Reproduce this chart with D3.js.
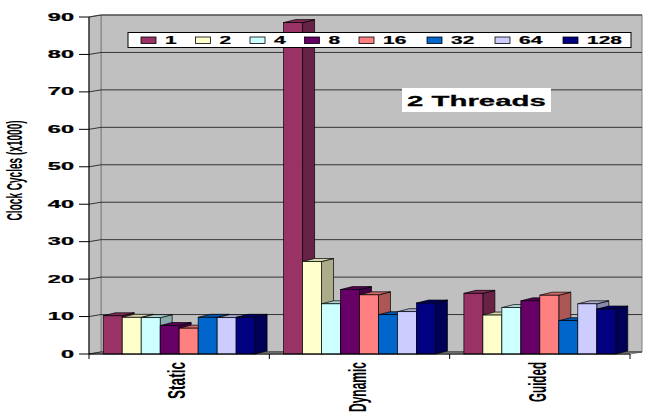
<!DOCTYPE html>
<html>
<head>
<meta charset="utf-8">
<script src="https://cdn.jsdelivr.net/npm/d3@7"></script>
<style>
  html, body { margin: 0; padding: 0; background: #fff; }
  svg { display: block; }
</style>
</head>
<body>
<script>
// chart values
const categories = ["Static", "Dynamic", "Guided"];
const threads = ["1", "2", "4", "8", "16", "32", "64", "128"];
const staticCycles = [10.2, 9.8, 9.7, 7.6, 6.9, 9.8, 9.7, 9.8];
const dynamicCycles = [88.5, 24.7, 13.4, 17.2, 15.8, 10.5, 11.3, 13.6];
const guidedCycles = [16.2, 10.4, 12.4, 14.2, 15.7, 8.9, 13.4, 12.0];
const yTicks = [0, 10, 20, 30, 40, 50, 60, 70, 80, 90];
const colors = ["#993366", "#FFFFCC", "#CCFFFF", "#660066", "#FF8080", "#0066CC", "#CCCCFF", "#000080"];
const catLabelLength = [37, 50, 40];

const svgData = {
    width: 648,
    height: 420,
    left: 89,
    right: 630,
    top: 17,
    floor: 354,
    wallDx: 12,
    wallDy: -2,
    barDx: 12,
    barDy: -3
};

const rows = categories.map((c, i) => ({
    cat: c,
    values: [staticCycles, dynamicCycles, guidedCycles][i]
}));

const svg = d3.select("body").append("svg")
    .attr("width", svgData.width)
    .attr("height", svgData.height);

const scaleX = d3.scaleBand()
    .domain(categories)
    .range([svgData.left, svgData.right]);

const scaleInner = d3.scaleBand()
    .domain(threads)
    .range([0, scaleX.bandwidth()])
    .paddingInner(0)
    .paddingOuter(0.75);

const scaleY = d3.scaleLinear()
    .domain([0, 90])
    .range([svgData.floor, svgData.top]);

const dx = svgData.wallDx, dy = svgData.wallDy;
const L = svgData.left, R = svgData.right, F = svgData.floor, T = svgData.top;

// walls and floor
svg.append("polygon")
    .attr("points", [[L + dx, T + dy], [R + dx, T + dy], [R + dx, F + dy], [L + dx, F + dy]].join(" "))
    .attr("fill", "#c0c0c0").attr("stroke", "#808080").attr("stroke-width", 1);
svg.append("polygon")
    .attr("points", [[L, T], [L + dx, T + dy], [L + dx, F + dy], [L, F]].join(" "))
    .attr("fill", "#c0c0c0").attr("stroke", "#808080").attr("stroke-width", 1);
svg.append("polygon")
    .attr("points", [[L, F], [R, F], [R + dx, F + dy], [L + dx, F + dy]].join(" "))
    .attr("fill", "#c0c0c0").attr("stroke", "#808080").attr("stroke-width", 1);

// gridlines
yTicks.forEach(v => {
    const y = scaleY(v);
    svg.append("polyline")
        .attr("points", [[L, y], [L + dx, y + dy], [R + dx, y + dy]].join(" "))
        .attr("fill", "none")
        .attr("stroke", "#333")
        .attr("stroke-width", 1);
});

// bars
const bx = svgData.barDx, by = svgData.barDy;
const w = scaleInner.bandwidth();
rows.forEach(row => {
    const g = svg.append("g");
    row.values.forEach((v, i) => {
        const x = scaleX(row.cat) + scaleInner(threads[i]);
        const y = scaleY(v);
        const c = d3.color(colors[i]);
        g.append("polygon")
            .attr("points", [[x + w, y], [x + w + bx, y + by], [x + w + bx, F + by], [x + w, F]].join(" "))
            .attr("fill", c.darker(1.1))
            .attr("stroke", "#000").attr("stroke-width", 0.7);
        g.append("polygon")
            .attr("points", [[x, y], [x + w, y], [x + w + bx, y + by], [x + bx, y + by]].join(" "))
            .attr("fill", c.darker(0.5))
            .attr("stroke", "#000").attr("stroke-width", 0.7);
        g.append("rect")
            .attr("x", x).attr("y", y)
            .attr("width", w).attr("height", F - y)
            .attr("fill", colors[i])
            .attr("stroke", "#000").attr("stroke-width", 0.7);
    });
});

// axes
svg.append("line")
    .attr("x1", L).attr("x2", L).attr("y1", T).attr("y2", F)
    .attr("stroke", "#000");
svg.append("line")
    .attr("x1", L).attr("x2", R).attr("y1", F).attr("y2", F)
    .attr("stroke", "#000");

const font = "'Liberation Sans', Arial, sans-serif";

yTicks.forEach(v => {
    const y = scaleY(v);
    svg.append("line")
        .attr("x1", L - 10).attr("x2", L).attr("y1", y).attr("y2", y)
        .attr("stroke", "#000");
    svg.append("text")
        .attr("transform", `translate(74,${y + 3.6}) scale(2.35,1)`)
        .attr("text-anchor", "end")
        .attr("font-family", font)
        .attr("font-weight", "bold")
        .attr("font-size", 10)
        .attr("stroke", "#000")
        .attr("stroke-width", 0.25)
        .text(v);
});

// category ticks and labels
[L].concat(categories.map(c => scaleX(c) + scaleX.bandwidth())).forEach(x => {
    svg.append("line")
        .attr("x1", x).attr("x2", x).attr("y1", F).attr("y2", F + 5)
        .attr("stroke", "#000");
});
categories.forEach((c, i) => {
    const cx = scaleX(c) + scaleX.bandwidth() / 2;
    svg.append("text")
        .attr("transform", `translate(${cx + 6},362) scale(1.95,1) rotate(-90)`)
        .attr("text-anchor", "end")
        .attr("font-family", font)
        .attr("font-weight", "bold")
        .attr("font-size", 12.5)
        .attr("textLength", catLabelLength[i])
        .attr("lengthAdjust", "spacingAndGlyphs")
        .text(c);
});

// y axis title
svg.append("text")
    .attr("transform", "translate(22,170.4) scale(1.9,1) rotate(-90)")
    .attr("text-anchor", "middle")
    .attr("font-family", font)
    .attr("font-weight", "bold")
    .attr("font-size", 12)
    .attr("textLength", 100)
    .attr("lengthAdjust", "spacingAndGlyphs")
    .text("Clock Cycles (x1000)");

// legend
const legend = svg.append("g");
legend.append("rect")
    .attr("x", 128).attr("y", 32.5).attr("width", 503).attr("height", 15)
    .attr("fill", "#fff").attr("stroke", "#000").attr("stroke-width", 1);
let lx = 141;
threads.forEach((t, i) => {
    legend.append("rect")
        .attr("x", lx).attr("y", 37).attr("width", 15).attr("height", 6.5)
        .attr("fill", colors[i]).attr("stroke", "#000").attr("stroke-width", 0.8);
    legend.append("text")
        .attr("transform", `translate(${lx + 24},44) scale(2.1,1)`)
        .attr("font-family", font)
        .attr("font-weight", "bold")
        .attr("font-size", 10)
        .attr("stroke", "#000")
        .attr("stroke-width", 0.2)
        .text(t);
    lx += 24 + 13.5 * t.length + 17;
});

// title box
svg.append("rect")
    .attr("x", 402).attr("y", 88).attr("width", 149).attr("height", 24)
    .attr("fill", "#fff");
svg.append("text")
    .attr("transform", "translate(407,106) scale(2.1,1)")
    .attr("font-family", font)
    .attr("font-weight", "bold")
    .attr("font-size", 14)
    .attr("stroke", "#000")
    .attr("stroke-width", 0.25)
    .text("2 Threads");
</script>
</body>
</html>
